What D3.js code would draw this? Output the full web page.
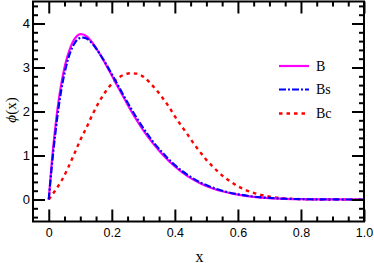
<!DOCTYPE html>
<html><head><meta charset="utf-8">
<script src="https://cdn.jsdelivr.net/npm/d3@7/dist/d3.min.js"></script>
<style>
html,body{margin:0;padding:0;background:#fff;}
svg{display:block;}
</style></head>
<body>
<svg id="chart" width="374" height="263"></svg>
<script>
// ---- data ----
const xB  = [0,0.01,0.02,0.03,0.04,0.05,0.06,0.07,0.08,0.09,0.10,0.11,0.12,0.14,0.16,0.18,0.20,0.22,0.24,0.26,0.28,0.30,0.33,0.36,0.40,0.44,0.48,0.52,0.56,0.60,0.65,0.70,0.75,0.80,0.85,0.90,1.0];
const yB  = [0,0.88,1.59,2.18,2.64,3.00,3.27,3.48,3.63,3.72,3.76,3.75,3.71,3.55,3.33,3.08,2.82,2.55,2.29,2.03,1.79,1.57,1.28,1.03,0.75,0.53,0.37,0.25,0.17,0.11,0.06,0.03,0.015,0.007,0.003,0.001,0];
const yBs = [0,0.78,1.45,2.03,2.50,2.87,3.16,3.38,3.53,3.63,3.67,3.68,3.66,3.53,3.33,3.10,2.85,2.59,2.33,2.08,1.84,1.62,1.32,1.07,0.78,0.56,0.39,0.27,0.18,0.12,0.065,0.035,0.017,0.008,0.003,0.001,0];
const xBc = [0,0.02,0.04,0.06,0.08,0.10,0.12,0.14,0.16,0.18,0.20,0.22,0.24,0.26,0.28,0.30,0.32,0.34,0.36,0.38,0.40,0.42,0.44,0.46,0.48,0.50,0.52,0.54,0.56,0.58,0.60,0.62,0.65,0.70,0.75,0.80,0.85,0.90,1.0];
const yBc = [0,0.20,0.42,0.70,1.02,1.35,1.64,1.95,2.22,2.45,2.63,2.76,2.84,2.87,2.86,2.79,2.66,2.50,2.32,2.12,1.89,1.68,1.48,1.27,1.08,0.90,0.75,0.61,0.49,0.39,0.30,0.23,0.15,0.065,0.025,0.008,0.002,0.001,0];
const seriesNames = ["B","Bs","Bc"];
const xMajor = [0,0.2,0.4,0.6,0.8,1.0];
const xMajorLabels = ["0","0.2","0.4","0.6","0.8","1.0"];
const yMajor = [0,1,2,3,4];
const yMajorLabels = ["0","1","2","3","4"];
const xMinor = d3.range(0,1.0001,0.05).map(v=>+v.toFixed(2)).filter(v=>!xMajor.includes(v));
const yMinor = d3.range(-0.4,4.41,0.2).map(v=>+v.toFixed(1)).filter(v=>!yMajor.includes(v));

// ---- layout ----
const L=33, R=364, T=1.5, B=221.5;
const x = d3.scaleLinear().domain([-0.05,1.0]).range([L,R]);
const y = d3.scaleLinear().domain([-0.5,4.5]).range([B,T]);
const svg = d3.select("#chart");
const tickFont = "'Liberation Sans', Arial, sans-serif";
const serif = "'Liberation Serif', 'Times New Roman', serif";

// curves
const styles = [
  {color:"#ff00ff", dash:null, w:2.2},
  {color:"#0000ff", dash:"7,2,2,2", w:2.2},
  {color:"#ff0000", dash:"3.5,4", w:2.4}
];
const data = [
  xB.map((v,i)=>[v,yB[i]]),
  xB.map((v,i)=>[v,yBs[i]]),
  xBc.map((v,i)=>[v,yBc[i]])
];
const line = d3.line().x(d=>x(d[0])).y(d=>y(d[1])).curve(d3.curveMonotoneX);
[2,0,1].forEach(i=>{
  svg.append("path").attr("d",line(data[i])).attr("fill","none")
    .attr("stroke",styles[i].color).attr("stroke-width",styles[i].w)
    .attr("stroke-dasharray",styles[i].dash);
});

// axes
function styleAxis(g){
  g.select(".domain").remove();
  g.selectAll(".tick line").attr("stroke","#000").attr("stroke-width",2);
}
svg.append("g").attr("transform",`translate(0,${B})`)
  .call(d3.axisBottom(x).tickValues(xMajor).tickSize(-12).tickPadding(6.5).tickFormat((d,i)=>xMajorLabels[i]))
  .call(styleAxis)
  .selectAll("text").attr("font-family",tickFont).attr("font-size","12.5px").attr("fill","#000");
svg.append("g").attr("transform",`translate(0,${B})`)
  .call(d3.axisBottom(x).tickValues(xMinor).tickSize(-5).tickFormat(""))
  .call(styleAxis);
svg.append("g").attr("transform",`translate(0,${T})`)
  .call(d3.axisTop(x).tickValues(xMajor).tickSize(-12).tickFormat(""))
  .call(styleAxis);
svg.append("g").attr("transform",`translate(0,${T})`)
  .call(d3.axisTop(x).tickValues(xMinor).tickSize(-5).tickFormat(""))
  .call(styleAxis);
svg.append("g").attr("transform",`translate(${L},0)`)
  .call(d3.axisLeft(y).tickValues(yMajor).tickSize(-12).tickPadding(3).tickFormat((d,i)=>yMajorLabels[i]))
  .call(styleAxis)
  .selectAll("text").attr("font-family",tickFont).attr("font-size","13px").attr("fill","#000");
svg.append("g").attr("transform",`translate(${L},0)`)
  .call(d3.axisLeft(y).tickValues(yMinor).tickSize(-5).tickFormat(""))
  .call(styleAxis);
svg.append("g").attr("transform",`translate(${R},0)`)
  .call(d3.axisRight(y).tickValues(yMajor).tickSize(-12).tickFormat(""))
  .call(styleAxis);
svg.append("g").attr("transform",`translate(${R},0)`)
  .call(d3.axisRight(y).tickValues(yMinor).tickSize(-5).tickFormat(""))
  .call(styleAxis);

// frame
svg.append("rect").attr("x",L).attr("y",T).attr("width",R-L).attr("height",B-T)
  .attr("fill","none").attr("stroke","#000").attr("stroke-width",2);

// axis titles
svg.append("text").attr("x",(L+R)/2+1).attr("y",261.5).attr("text-anchor","middle")
  .attr("font-family",serif).attr("font-size","16px").text("x");
const yt = svg.append("text").attr("transform","translate(15.5,110) rotate(-90)")
  .attr("text-anchor","middle").attr("font-family",serif).attr("font-size","15px");
yt.append("tspan").attr("font-style","italic").text("ϕ");
yt.append("tspan").text("(x)");

// legend
const legY = [66,89.5,113.5];
seriesNames.forEach((n,i)=>{
  svg.append("line").attr("x1",279).attr("x2",309).attr("y1",legY[i]).attr("y2",legY[i])
    .attr("stroke",styles[i].color).attr("stroke-width",styles[i].w)
    .attr("stroke-dasharray",styles[i].dash);
  svg.append("text").attr("x",316).attr("y",legY[i]+4.5)
    .attr("font-family",serif).attr("font-size","14px").text(n);
});
</script>
</body></html>
